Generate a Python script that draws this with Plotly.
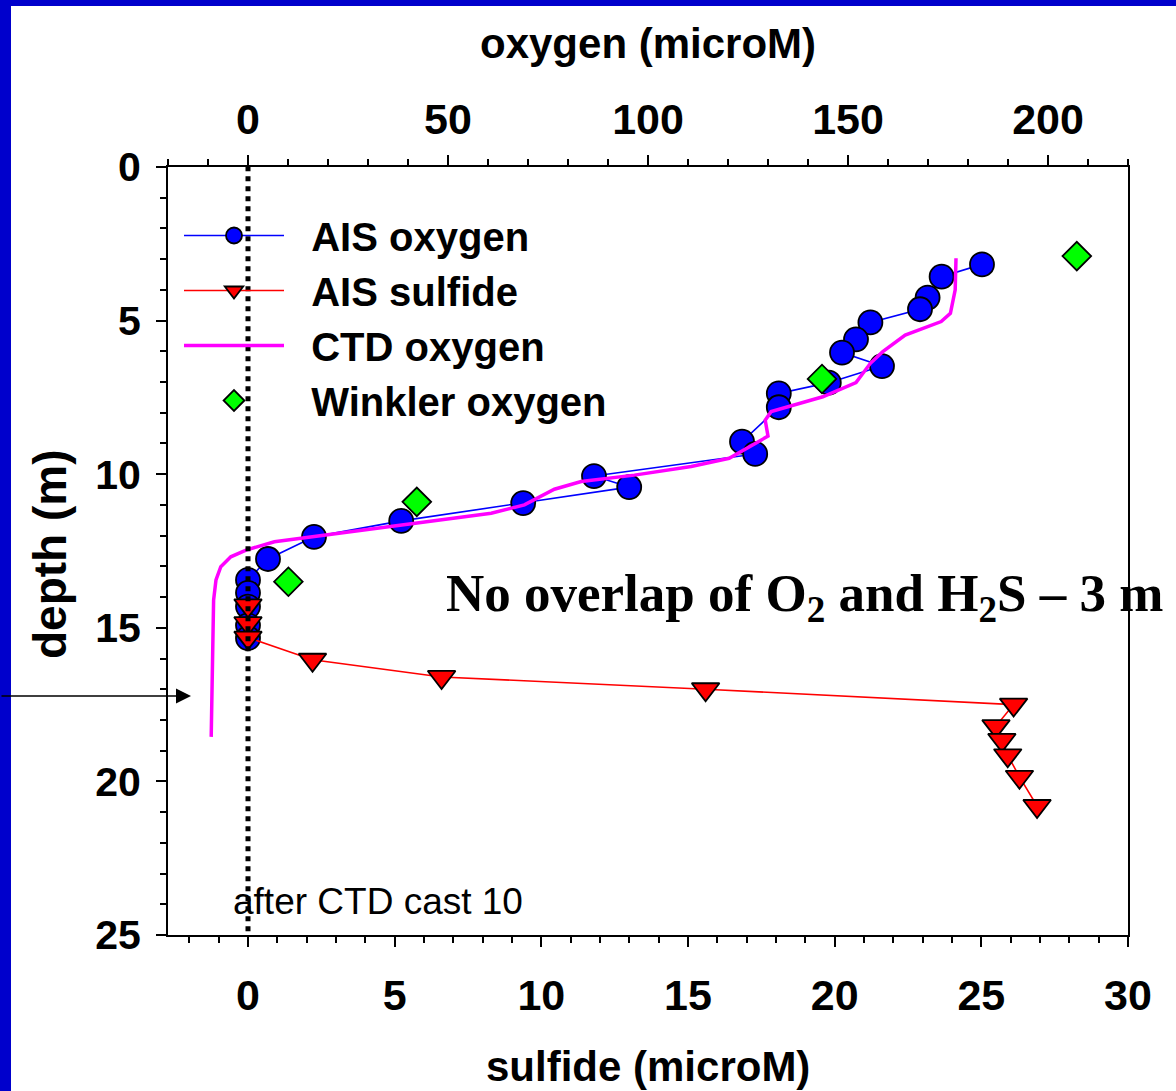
import plotly.graph_objects as go

# ---------------- data ----------------
ais_o2 = [183.5, 173.4, 169.9, 168.0, 155.6, 152.0, 148.5, 158.5, 145.2, 132.7, 132.7,
          123.5, 126.8, 86.5, 95.3, 68.8, 38.3, 16.5, 5.0, 0.0, 0.0, 0.0, 0.0, 0.0]
ais_o2_depth = [3.17, 3.57, 4.25, 4.63, 5.06, 5.61, 6.04, 6.48, 7.02, 7.37, 7.82,
                8.94, 9.34, 10.06, 10.42, 10.94, 11.52, 12.04, 12.76, 13.44, 13.86, 14.31, 14.92, 15.34]

ais_h2s = [0.0, 0.0, 0.0, 2.2, 6.6, 15.6, 26.1, 25.5, 25.7, 25.9, 26.3, 26.9]
ais_h2s_depth = [14.27, 14.85, 15.32, 16.04, 16.6, 17.0, 17.5, 18.2, 18.65, 19.15, 19.85, 20.8]

ctd_o2 = [177.0, 176.8, 175.6, 173.3, 164.3, 158.7, 155.6, 152.0, 143.7, 130.8, 129.3, 130.0,
          120.3, 110.8, 96.6, 83.3, 76.6, 72.4, 69.1, 60.8, 33.3, 16.6, 6.6, -0.5, -4.3, -6.8,
          -8.0, -8.6, -9.0, -9.2]
ctd_depth = [2.97, 4.0, 4.76, 5.03, 5.47, 6.01, 6.39, 7.02, 7.48, 7.96, 8.24, 8.76,
             9.48, 9.75, 10.03, 10.24, 10.49, 10.79, 11.0, 11.27, 11.73, 12.03, 12.2, 12.47, 12.69, 13.01,
             13.44, 14.1, 17.35, 18.55]

winkler_o2 = [207.2, 143.5, 42.2, 10.1]
winkler_depth = [2.9, 6.9, 10.9, 13.5]

o2_ticks = [0, 50, 100, 150, 200]
h2s_ticks = [0, 5, 10, 15, 20, 25, 30]
depth_ticks = [0, 5, 10, 15, 20, 25]

series_names = ["AIS oxygen", "AIS sulfide", "CTD oxygen", "Winkler oxygen"]

# ---------------- figure ----------------
W, H = 1176, 1091
ML, MR, MT, MB = 168, 48, 167, 156
PW, PH = W - ML - MR, H - MT - MB

FONT = "Arial, Liberation Sans, sans-serif"
SERIF = "Times New Roman, Liberation Serif, serif"
PAD = "\u00a0\u00a0"

fig = go.Figure()

fig.add_trace(go.Scatter(
    x=ais_o2, y=ais_o2_depth, name=PAD + series_names[0], xaxis="x", yaxis="y",
    mode="lines+markers",
    line=dict(color="#0000FF", width=1.6),
    marker=dict(symbol="circle", size=24, color="#0000FF", line=dict(color="black", width=1.8)),
))
fig.add_trace(go.Scatter(
    x=ais_h2s, y=ais_h2s_depth, name=PAD + series_names[1], xaxis="x2", yaxis="y",
    mode="lines+markers",
    line=dict(color="#FF0000", width=1.6),
    marker=dict(symbol="triangle-down", size=24, color="#FF0000", line=dict(color="black", width=1.8)),
))
fig.add_trace(go.Scatter(
    x=ctd_o2, y=ctd_depth, name=PAD + series_names[2], xaxis="x", yaxis="y",
    mode="lines",
    line=dict(color="#FF00FF", width=3.5),
))
fig.add_trace(go.Scatter(
    x=winkler_o2, y=winkler_depth, name=PAD + series_names[3], xaxis="x", yaxis="y",
    mode="markers",
    marker=dict(symbol="diamond", size=22, color="#00FF00", line=dict(color="black", width=1.8)),
))

tickfont = dict(family=FONT, size=43, color="black", weight="bold")

fig.update_layout(
    width=W, height=H,
    margin=dict(l=ML, r=MR, t=MT, b=MB, pad=0),
    paper_bgcolor="white", plot_bgcolor="white",
    font=dict(family=FONT, color="black"),
    showlegend=True,
    legend=dict(
        x=(179 - ML) / PW, y=1 - (203 - MT) / PH, xanchor="left", yanchor="top",
        bgcolor="rgba(0,0,0,0)", borderwidth=0,
        font=dict(family=FONT, size=40, color="black", weight="bold"),
        itemwidth=100, tracegroupgap=0,
    ),
    xaxis=dict(
        side="top", range=[-20, 220], tickmode="array", tickvals=o2_ticks,
        ticktext=[str(v) for v in o2_ticks],
        showline=True, linecolor="black", linewidth=2, showgrid=False, zeroline=False,
        ticks="outside", ticklen=10, tickwidth=2, tickcolor="black",
        minor=dict(ticks="outside", dtick=10, tick0=0, ticklen=6, tickwidth=1.5, tickcolor="black", showgrid=False),
        tickfont=tickfont, ticklabelstandoff=4,
    ),
    xaxis2=dict(
        overlaying="x", side="bottom", anchor="y", range=[-30 / 11, 30],
        tickmode="array", tickvals=h2s_ticks, ticktext=[str(v) for v in h2s_ticks],
        showline=True, linecolor="black", linewidth=2, showgrid=False, zeroline=False,
        ticks="outside", ticklen=10, tickwidth=2, tickcolor="black",
        minor=dict(ticks="outside", dtick=1, tick0=0, ticklen=6, tickwidth=1.5, tickcolor="black", showgrid=False),
        tickfont=tickfont, ticklabelstandoff=11,
    ),
    yaxis=dict(
        range=[25, 0], tickmode="array", tickvals=depth_ticks, ticktext=[str(v) for v in depth_ticks],
        showline=True, mirror=True, linecolor="black", linewidth=2, showgrid=False, zeroline=False,
        ticks="outside", ticklen=10, tickwidth=2, tickcolor="black",
        minor=dict(ticks="outside", dtick=1, tick0=0, ticklen=6, tickwidth=1.5, tickcolor="black", showgrid=False),
        tickfont=dict(family=FONT, size=41, color="black", weight="bold"), ticklabelstandoff=7,
    ),
)

# dotted zero line
fig.add_shape(type="line", xref="x2", yref="paper", x0=0, x1=0, y0=0.005, y1=1,
              line=dict(color="black", width=5, dash="5px,5px"), layer="above")

# blue slide frame strips (left and top)
fig.add_shape(type="rect", xref="paper", yref="paper",
              x0=-ML / PW, x1=(11 - ML) / PW, y0=-MB / PH, y1=1 + MT / PH,
              fillcolor="#0000CC", line=dict(width=0), layer="below")
fig.add_shape(type="rect", xref="paper", yref="paper",
              x0=-ML / PW, x1=1 + MR / PW, y0=1 + (MT - 6) / PH, y1=1 + MT / PH,
              fillcolor="#0000CC", line=dict(width=0), layer="below")

# axis titles
fig.add_annotation(text="oxygen (microM)", xref="paper", yref="paper", x=0.5, y=1 + (MT - 43) / PH,
                   showarrow=False, xanchor="center", yanchor="middle",
                   font=dict(family=FONT, size=42, color="black", weight="bold"))
fig.add_annotation(text="sulfide (microM)", xref="paper", yref="paper", x=0.5, y=-(1066 - MT - PH) / PH,
                   showarrow=False, xanchor="center", yanchor="middle",
                   font=dict(family=FONT, size=42, color="black", weight="bold"))
fig.add_annotation(text="depth (m)", xref="paper", yref="paper", x=(50 - ML) / PW, y=1 - (554 - MT) / PH,
                   showarrow=False, xanchor="center", yanchor="middle", textangle=-90,
                   font=dict(family=FONT, size=46, color="black", weight="bold"))

# text annotations
fig.add_annotation(text="No overlap of O<sub>2</sub> and H<sub>2</sub>S – 3 m", xref="paper", yref="y",
                   x=(804 - ML) / PW, y=14.0, showarrow=False, xanchor="center", yanchor="middle",
                   font=dict(family=SERIF, size=53, color="black", weight="bold"))
fig.add_annotation(text="after CTD cast 10", xref="paper", yref="y",
                   x=(378 - ML) / PW, y=23.9, showarrow=False, xanchor="center", yanchor="middle",
                   font=dict(family=FONT, size=37, color="black"))

# arrow on the left
fig.add_annotation(text="", xref="paper", yref="y", x=(191 - ML) / PW, y=17.22,
                   ax=-191, ay=0, axref="pixel", ayref="pixel",
                   showarrow=True, arrowhead=2, arrowsize=2, arrowwidth=1.5, arrowcolor="black")

fig.write_html("out.html")
